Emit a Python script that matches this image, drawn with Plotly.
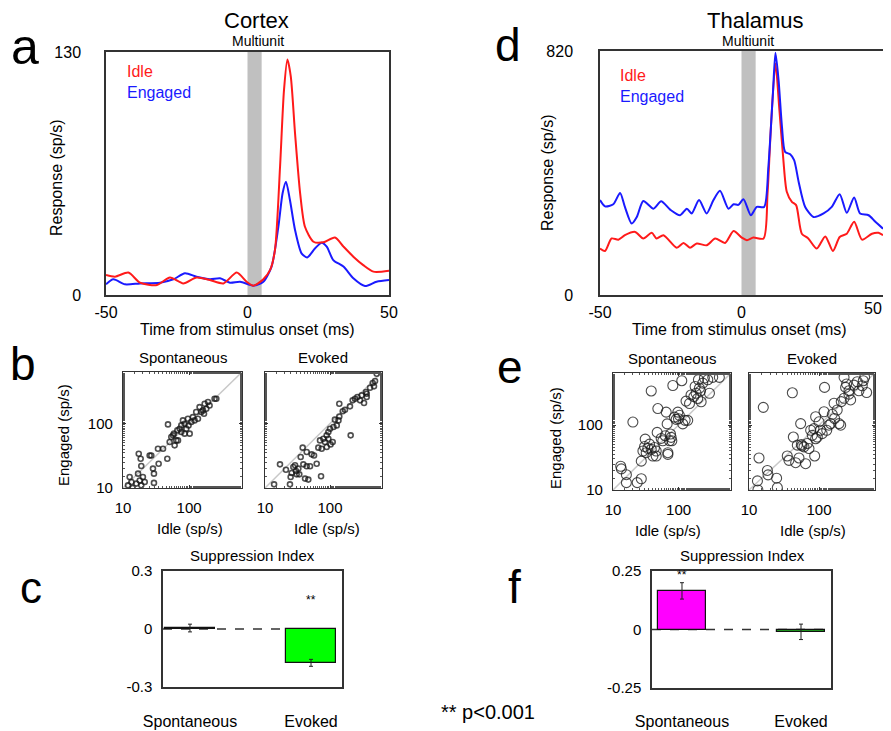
import plotly.graph_objects as go

W, H = 891, 731
OFF = 8  # page body margin in the browser
FW, FH = W - OFF, H - OFF
FONT = "Liberation Sans, Arial, sans-serif"

# ---------------- data ----------------
cortex_idle_t = [-50, -46.8, -42.1, -38, -32, -27.4, -22.7, -18, -13.3, -8.5, -3.8, -0.3, 2.1, 5.6, 8, 9.7, 11.5,
                 12.9, 14.1, 15.3, 16.8, 18.6, 20.3, 23.3, 26.8, 30.9, 33.9, 37.4, 40.9, 44.5, 50]
cortex_idle_r = [10.7, 9.8, 12, 6.6, 5.3, 9.4, 6.2, 9.4, 8, 6.2, 12, 7.1, 5, 8.4, 13.4, 24, 68.6,
                 109.7, 126, 116.8, 86.5, 54.4, 36.5, 28.5, 28.2, 30.8, 25.9, 20.5, 16, 12.5, 13]
cortex_eng_t = [-50, -47.4, -43.3, -38, -30.9, -26.2, -22.1, -18, -13.3, -9.7, -6.2, -2.6, 2.1, 5.6, 8.5, 10.9,
                12.4, 13.6, 15, 16.8, 19.1, 21.1, 23.9, 26.2, 28, 30.3, 33.9, 37.4, 41.5, 45.6, 50]
cortex_eng_r = [5.7, 8.4, 5.7, 6.2, 6.6, 8.4, 11.6, 9.8, 8.4, 8.9, 6.6, 7.1, 5, 7.1, 15.2, 36.5,
                54.4, 60.6, 50.8, 34.8, 22.3, 20.1, 25, 28, 25.9, 18.7, 15.2, 8.9, 4.8, 7.1, 8]

thal_eng_t = [-50, -48.2, -45.3, -42.9, -41.2, -38.8, -37, -34.7, -31.1, -28.4, -25.2, -21.7, -19.3, -17.6, -15,
              -12.3, -9.9, -7.6, -4.6, -2.8, -1.1, 0.7, 3.3, 5.4, 8, 9.5, 11.1, 12, 13.1, 14.3, 15.4, 17.2, 18.6,
              20.2, 22.5, 25.5, 29, 31.9, 34.7, 37.2, 39.8, 41.9, 44.9, 47.3, 50]
thal_eng_r = [319, 298, 305, 343, 296, 240, 262, 316, 290, 315, 287, 268, 290, 274, 319,
              274, 319, 350, 290, 305, 303, 322, 268, 296, 296, 431, 678, 814, 722, 565, 481, 473, 453,
              380, 296, 262, 274, 296, 339, 276, 328, 274, 268, 246, 223]
thal_idle_t = [-50, -48.2, -45.9, -43.5, -41.2, -37.6, -34.7, -31.7, -30, -27.6, -22.9, -20.5, -18.2, -15.8, -12.3,
               -9.3, -5.8, -2.8, 0.1, 1.9, 4.2, 7.8, 9.2, 10.4, 12, 13.4, 14.8, 16, 17.8, 19.3, 21.3, 23.6, 26.6,
               29.6, 32.3, 34.7, 37.2, 39.8, 42.6, 46.1, 48.4, 50]
thal_idle_r = [156, 148, 190, 186, 201, 212, 190, 209, 190, 201, 159, 175, 159, 173, 167,
               190, 175, 215, 193, 184, 193, 190, 341, 565, 778, 621, 453, 347, 313, 302, 206, 190, 156,
               197, 148, 195, 206, 246, 186, 206, 209, 201]

b_spont_idle = [11.9, 14, 12.6, 13.4, 16.9, 17.9, 18.9, 20, 17.3, 18.5, 18.9, 25.3, 26.8, 28.4, 29.4, 29.4, 33.8,
                34.6, 40.3, 46.8, 47.9, 50.8, 53.8, 57, 60.4, 64, 67.9, 71.9, 76.2, 80.7, 85.5, 90.7, 96, 98, 102,
                108, 114, 121, 136, 128, 144, 153, 162, 172, 182, 193, 204, 243, 258, 59, 66.4, 76.2, 85.5, 168,
                15.9, 21.3]
b_spont_eng = [11, 10, 14.8, 12.4, 16.7, 13.1, 11, 14.8, 34, 28.5, 21.9, 32, 32, 20, 16.7, 12, 40.7,
               23.8, 40.7, 28.5, 97, 51.8, 61.8, 65.6, 45.9, 54.8, 54.8, 83, 93.7, 112, 99.5, 83, 119, 93.7, 69.7,
               106, 126, 112, 119, 151, 180, 151, 160, 203, 170, 216, 191, 243, 243, 69.7, 78.3, 74, 69.7, 142,
               11.7, 12.4]
b_evoked_idle = [13.8, 17, 21, 24.2, 24.8, 25.7, 27.3, 29, 30, 30.7, 32.6, 35.4, 38, 38.9, 41.3, 43.8, 46.4, 49.3,
                 43.8, 52.2, 56.8, 62.4, 66.2, 72.8, 70.2, 79, 83.8, 88.9, 94.4, 100, 102, 110, 113, 127, 119, 139,
                 135, 139, 157, 170, 203, 208, 223, 243, 264, 290, 307, 334, 358, 367, 413, 454, 493, 523, 475,
                 367, 94.4, 88.9, 74.5, 33.7]
b_evoked_eng = [11.4, 23.3, 19.2, 11.4, 14.8, 17.1, 21.2, 22.5, 18.4, 16.3, 20, 30.3, 42.3, 23.3, 14, 21.7, 13.5,
                21.7, 36.1, 33.3, 32, 23.8, 42.3, 15.2, 54.8, 58.2, 51.6, 65.6, 74, 83, 47.5, 51.6, 88.3, 93.7, 115,
                129, 112, 203, 155, 164, 185, 65.6, 229, 243, 258, 229, 274, 208, 308, 258, 360, 425, 457, 593, 378,
                290, 58.2, 43.3, 40.7, 16.3]
e_spont_idle = [13.1, 13.4, 16, 16, 23.4, 27, 20.1, 27, 28.6, 30.3, 31, 32.1, 34, 36.1, 38.3, 40.6, 43, 45.6, 38.3,
                47.2, 48.3, 45.6, 54.3, 57.5, 62.5, 64.7, 67, 68.7, 72.8, 75.3, 78.9, 81.8, 86.7, 91.9, 97.5, 99.8,
                103, 112, 116, 126, 138, 130, 147, 155, 171, 185, 196, 201, 208, 221, 234, 248, 279, 296, 332, 419,
                179, 216, 77.1, 68.7]
e_spont_eng = [23.2, 21.1, 17.2, 13, 13, 14.9, 111, 27.8, 39.8, 46.6, 60.7, 37.5, 43.9, 50.7, 42.3, 33.3, 45, 39.8,
               334, 77, 179, 33.3, 62.1, 57.1, 68.4, 158, 104, 37.5, 57.1, 72.6, 57.1, 405, 132, 122, 158, 125, 141,
               480, 104, 118, 118, 233, 214, 290, 273, 308, 256, 497, 369, 228, 441, 528, 497, 308, 541, 541, 392,
               334, 64.4, 35.3]
e_evoked_idle = [13.2, 13.4, 13.9, 16, 18.3, 18.7, 24.8, 25.4, 35.2, 37.2, 41.6, 43, 46.4, 49, 51.8, 54.7, 55.9, 61,
                 64.4, 68, 71.9, 76, 80.2, 84.7, 86.7, 89.5, 94.6, 100, 105, 111, 118, 120, 129, 139, 147, 155, 164,
                 167, 182, 193, 204, 208, 228, 228, 248, 268, 283, 316, 352, 372, 415, 449, 479, 429, 240, 268, 89.5,
                 57.2]
e_evoked_eng = [13.8, 10, 31.1, 187, 20, 17.1, 15.2, 10.9, 33.4, 28.6, 313, 65.3, 26.3, 49, 31.1, 105, 50.1, 46.1,
                25.4, 52, 43.4, 83, 69.3, 88, 33.4, 134, 65.3, 112, 83, 73.6, 160, 379, 83, 99.3, 105, 146, 216, 126,
                170, 105, 99.3, 229, 541, 258, 427, 336, 243, 411, 463, 336, 402, 541, 316, 480, 379, 298, 61.5, 47.9]

si_categories = ["Spontaneous", "Evoked"]
si_positions = [1, 2]
cortex_si = [0.005, -0.175]
cortex_si_err = [0.02, 0.018]
thal_si = [0.165, -0.01]
thal_si_err = [0.035, 0.033]

# ---------------- helpers (pixel positions in the window -> paper coords) ----------------
def PX(x):
    return (x - OFF) / FW


def PY(y):
    return 1 - (y - OFF) / FH


def dom_x(a, b):
    return [PX(a), PX(b)]


def dom_y(top, bottom):
    return [PY(bottom), PY(top)]


fig = go.Figure()
AX = "#333333"

# ---- panel a (x, y) and d (x2, y2) ----
fig.add_trace(go.Scatter(x=cortex_eng_t, y=cortex_eng_r, mode="lines", line=dict(color="#1a1aff", width=2,
                         shape="spline", smoothing=0.7), xaxis="x", yaxis="y", showlegend=False))
fig.add_trace(go.Scatter(x=cortex_idle_t, y=cortex_idle_r, mode="lines", line=dict(color="#ff1a1a", width=2,
                         shape="spline", smoothing=0.7), xaxis="x", yaxis="y", showlegend=False))
fig.add_trace(go.Scatter(x=thal_idle_t, y=thal_idle_r, mode="lines", line=dict(color="#ff1a1a", width=2,
                         shape="spline", smoothing=0.7), xaxis="x2", yaxis="y2", showlegend=False))
fig.add_trace(go.Scatter(x=thal_eng_t, y=thal_eng_r, mode="lines", line=dict(color="#1a1aff", width=2,
                         shape="spline", smoothing=0.7), xaxis="x2", yaxis="y2", showlegend=False))

# ---- scatter panels ----
def scat(xs, ys, xa, ya, size, lw, col):
    fig.add_trace(go.Scatter(x=xs, y=ys, mode="markers", xaxis=xa, yaxis=ya, showlegend=False,
                             marker=dict(symbol="circle-open", size=size, color=col, line=dict(width=lw, color=col))))


scat(b_spont_idle, b_spont_eng, "x3", "y3", 5, 1.6, "rgba(20,20,20,0.75)")
scat(b_evoked_idle, b_evoked_eng, "x4", "y4", 5, 1.6, "rgba(20,20,20,0.75)")
scat(e_spont_idle, e_spont_eng, "x5", "y5", 10, 1.1, "rgba(30,30,30,0.8)")
scat(e_evoked_idle, e_evoked_eng, "x6", "y6", 10, 1.1, "rgba(30,30,30,0.8)")

# ---- bar panels ----
fig.add_trace(go.Bar(x=si_positions, y=cortex_si, width=0.42, xaxis="x7", yaxis="y7", showlegend=False,
                     marker=dict(color=["#ff00ff", "#00ff00"], line=dict(color="#111111", width=1.2)),
                     error_y=dict(type="data", array=cortex_si_err, color="#222222", thickness=1, width=2)))
fig.add_trace(go.Bar(x=si_positions, y=thal_si, width=0.4, xaxis="x8", yaxis="y8", showlegend=False,
                     marker=dict(color=["#ff00ff", "#22bb22"], line=dict(color="#111111", width=1.2)),
                     error_y=dict(type="data", array=thal_si_err, color="#222222", thickness=1, width=2)))

tick_font = dict(family=FONT, size=16, color="black")
small_font = dict(family=FONT, size=15, color="black")

base = dict(showline=True, linecolor=AX, linewidth=1.5, mirror=True, showgrid=False, zeroline=False,
            ticks="", fixedrange=True, automargin=False, ticklabeloverflow="allow")

layout_axes = {}
# a
layout_axes["xaxis"] = dict(base, domain=dom_x(106, 389), range=[-50, 50], tickvals=[-50, 0, 50],
                            ticktext=["-50", "0", "50"], tickfont=tick_font, anchor="y", ticklabelstandoff=2)
layout_axes["yaxis"] = dict(base, domain=dom_y(52, 295), range=[0, 130], tickvals=[0, 130],
                            tickfont=tick_font, anchor="x", ticklabelstandoff=20)
# d (the right-most "50" label sits on an overlay axis so it can be nudged inside the window)
layout_axes["xaxis2"] = dict(base, domain=dom_x(600, 883), range=[-50, 50], tickvals=[-50, 0],
                             ticktext=["-50", "0"], tickfont=tick_font, anchor="y2", ticklabelstandoff=2)
layout_axes["xaxis9"] = dict(showline=False, showgrid=False, zeroline=False, ticks="", fixedrange=True,
                             automargin=False, ticklabeloverflow="allow", overlaying="x2", anchor="y2",
                             side="bottom", range=[-50, 50], tickvals=[50], ticktext=["50"], tickfont=tick_font,
                             ticklabelstandoff=2, ticklabelshift=-10)
layout_axes["yaxis2"] = dict(base, domain=dom_y(51, 295), range=[0, 820], tickvals=[0, 820],
                             tickfont=tick_font, anchor="x2", ticklabelstandoff=22)

# scatter axes
sc_base = dict(base, type="log", range=[1, 2.8], tickvals=[10, 100], ticktext=["10", "100"], ticks="inside",
               ticklen=3, tickcolor=AX, mirror="ticks", tickfont=small_font, linewidth=1.3,
               minor=dict(ticks="inside", ticklen=2, tickcolor="#555555", showgrid=False))
scatter_specs = [(3, (123, 242), (372, 488), True), (4, (265, 382), (372, 488), False),
                 (5, (613, 731), (373, 490), True), (6, (749, 875), (373, 490), False)]
for n, (xl, xr), (yt, yb), labels in scatter_specs:
    layout_axes[f"xaxis{n}"] = dict(sc_base, domain=dom_x(xl, xr), anchor=f"y{n}", ticklabelstandoff=6)
    layout_axes[f"yaxis{n}"] = dict(sc_base, domain=dom_y(yt, yb), anchor=f"x{n}", showticklabels=labels,
                                    ticklabelstandoff=6)

# bar axes
layout_axes["xaxis7"] = dict(base, domain=dom_x(163, 342), range=[0.777, 2.256], tickvals=si_positions,
                             ticktext=si_categories, tickfont=tick_font, anchor="y7", ticklabelstandoff=19)
layout_axes["yaxis7"] = dict(base, domain=dom_y(571, 687), range=[-0.3, 0.3], tickvals=[-0.3, 0, 0.3],
                             ticktext=["-0.3", "0", "0.3"], tickfont=small_font, anchor="x7", ticklabelstandoff=6)
layout_axes["xaxis8"] = dict(base, domain=dom_x(652, 831), range=[0.748, 2.252], tickvals=si_positions,
                             ticktext=si_categories, tickfont=tick_font, anchor="y8", ticklabelstandoff=18)
layout_axes["yaxis8"] = dict(base, domain=dom_y(571, 688), range=[-0.25, 0.25], tickvals=[-0.25, 0, 0.25],
                             ticktext=["-0.25", "0", "0.25"], tickfont=small_font, anchor="x8", ticklabelstandoff=6)

# invisible trace so the overlay axis is drawn
fig.add_trace(go.Scatter(x=[50], y=[0], mode="markers", marker=dict(opacity=0), xaxis="x9", yaxis="y2",
                         showlegend=False, hoverinfo="skip"))

shapes = [
    dict(type="rect", xref="x", yref="y domain", x0=0, x1=5, y0=0, y1=1, fillcolor="#c0c0c0",
         line=dict(width=0), layer="below"),
    dict(type="rect", xref="x2", yref="y2 domain", x0=0, x1=5, y0=0, y1=1, fillcolor="#c0c0c0",
         line=dict(width=0), layer="below"),
]
for n in (3, 4, 5, 6):
    shapes.append(dict(type="line", xref=f"x{n} domain", yref=f"y{n} domain", x0=0, y0=0, x1=1, y1=1,
                       line=dict(color="#c8c8c8", width=1.5), layer="below"))
for n in (7, 8):
    shapes.append(dict(type="line", xref=f"x{n} domain", yref=f"y{n}", x0=0, x1=1, y0=0, y1=0,
                       line=dict(color="#333333", width=1.3, dash="dash"), layer="below"))

annotations = []


def ann(text, x, y, size, color="black", xanchor="center", yanchor="middle", angle=0):
    annotations.append(dict(text=text, x=PX(x), y=PY(y), xref="paper", yref="paper", showarrow=False,
                            xanchor=xanchor, yanchor=yanchor, textangle=angle,
                            font=dict(family=FONT, size=size, color=color)))


# panel letters
ann("a", 25, 47, 50)
ann("d", 508, 45, 46)
ann("b", 23, 364, 46)
ann("e", 510, 367, 46)
ann("c", 31, 587, 44)
ann("f", 514, 587, 46)
# titles
ann("Cortex", 256, 20, 22)
ann("Multiunit", 258, 41, 14)
ann("Thalamus", 755, 20, 22)
ann("Multiunit", 748, 41, 14)
# legends
ann("Idle", 125, 71, 16, "#ff1a1a", xanchor="left")
ann("Engaged", 125, 92, 16, "#1a1aff", xanchor="left")
ann("Idle", 618, 75, 16, "#ff1a1a", xanchor="left")
ann("Engaged", 618, 96, 16, "#1a1aff", xanchor="left")
# axis titles
ann("Response (sp/s)", 56, 178, 16, angle=-90)
ann("Response (sp/s)", 548, 173, 16, angle=-90)
ann("Time from stimulus onset (ms)", 248, 329, 16)
ann("Time from stimulus onset (ms)", 739, 329, 16)
# scatter titles
ann("Spontaneous", 183, 357, 15)
ann("Evoked", 323, 357, 15)
ann("Spontaneous", 672, 358, 15)
ann("Evoked", 812, 358, 15)
ann("Engaged (sp/s)", 63, 435, 15, angle=-90)
ann("Engaged (sp/s)", 555, 438, 15, angle=-90)
ann("Idle (sp/s)", 190, 528, 15)
ann("Idle (sp/s)", 327, 528, 15)
ann("Idle (sp/s)", 668, 530, 15)
ann("Idle (sp/s)", 813, 530, 15)
# bar panels
ann("Suppression Index", 252, 555, 15)
ann("Suppression Index", 742, 555, 15)
ann("** p&lt;0.001", 488, 712, 20)
annotations.append(dict(text="**", x=2, y=0.15, xref="x7", yref="y7", showarrow=False,
                        font=dict(family=FONT, size=12, color="black")))
annotations.append(dict(text="**", x=1, y=0.235, xref="x8", yref="y8", showarrow=False,
                        font=dict(family=FONT, size=12, color="black")))

fig.update_layout(width=FW, height=FH, margin=dict(l=0, r=0, t=0, b=0, autoexpand=False), paper_bgcolor="white",
                  plot_bgcolor="white", font=dict(family=FONT, color="black"), shapes=shapes,
                  annotations=annotations, showlegend=False, bargap=0, **layout_axes)

fig.write_html("out.html")
